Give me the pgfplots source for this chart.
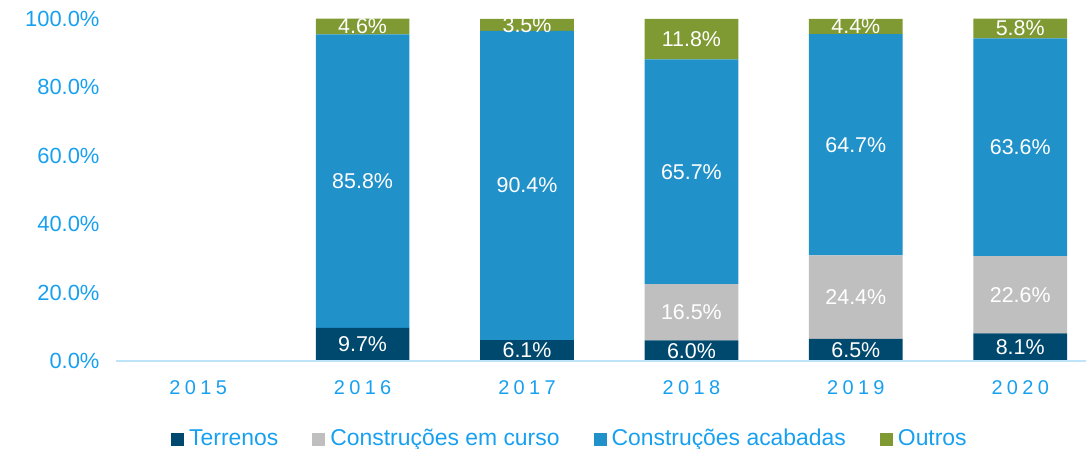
\documentclass[border=0pt]{standalone}
\usepackage{pgfplots}
\pgfplotsset{compat=1.18}
\usepackage{pgfplotstable}
\usepackage{fontspec}
\setmainfont{Liberation Sans}
\newfontfamily\spaced[LetterSpace=22]{Liberation Sans}
\definecolor{terr}{RGB}{0,73,110}
\definecolor{curso}{RGB}{191,191,191}
\definecolor{acab}{RGB}{33,145,202}
\definecolor{outros}{RGB}{127,153,51}
\definecolor{tickc}{RGB}{24,160,240}
\definecolor{basec}{RGB}{190,228,250}

\pgfplotstableread{
x t c a o
0 0 0 0 0
1 9.7 0 85.8 4.6
2 6.1 0 90.4 3.5
3 6.0 16.5 65.7 11.8
4 6.5 24.4 64.7 4.4
5 8.1 22.6 63.6 5.8
}\data

\begin{document}
\begin{tikzpicture}
\begin{axis}[
  at={(0,0)}, anchor=south west,
  scale only axis, width=970bp, height=342.34bp,
  ybar stacked, bar width=0.57,
  xmin=-0.5, xmax=5.4, ymin=0, ymax=100.1,
  xtick={0,1,2,3,4,5},
  xticklabels={2015,2016,2017,2018,2019,2020},
  x tick label style={font=\spaced\fontsize{20}{24}\selectfont, text=tickc, yshift=-16bp},
  ytick={0,20,40,60,80,100},
  yticklabel={\pgfmathprintnumber[fixed,fixed zerofill,precision=1]{\tick}\%},
  y tick label style={font=\fontsize{22}{26}\selectfont, text=tickc, xshift=-13bp},
  /pgf/number format/assume math mode=true,
  axis line style={draw=none},
  major tick length=0, tick style={draw=none},
  nodes near coords={\ifdim\rawy pt>0.05pt\pgfmathprintnumber[fixed,fixed zerofill,precision=1]{\rawy}\%\fi},
  every node near coord/.append style={font=\fontsize{21.5}{25}\selectfont, text=white, anchor=center},
  legend columns=4,
  legend style={at={(0.468,-0.225)}, anchor=center, draw=none, fill=none,
    font=\fontsize{23}{27}\selectfont, text=tickc,
    /tikz/every even column/.append style={column sep=32bp}},
  legend image code/.code={\path[#1] (0bp,-8bp) rectangle (13bp,5bp); \path (16bp,0bp);},
]
\draw[basec, line width=2bp] (axis cs:-0.5,0) -- (axis cs:5.4,0);
\addplot[fill=terr, draw=none, visualization depends on={\thisrow{t} \as \rawy}] table[x=x,y=t]{\data};
\addlegendentry{Terrenos}
\addplot[fill=curso, draw=none, visualization depends on={\thisrow{c} \as \rawy}] table[x=x,y=c]{\data};
\addlegendentry{Construções em curso}
\addplot[fill=acab, draw=none, visualization depends on={\thisrow{a} \as \rawy}] table[x=x,y=a]{\data};
\addlegendentry{Construções acabadas}
\addplot[fill=outros, draw=none, visualization depends on={\thisrow{o} \as \rawy}] table[x=x,y=o]{\data};
\addlegendentry{Outros}
\node[text=white, font=\fontsize{21.5}{25}\selectfont] at (axis cs:0,0) {0.0\%};
\end{axis}
\pgfresetboundingbox
\useasboundingbox (-116bp,-88bp) rectangle (970bp,361bp);
\end{tikzpicture}
\end{document}
